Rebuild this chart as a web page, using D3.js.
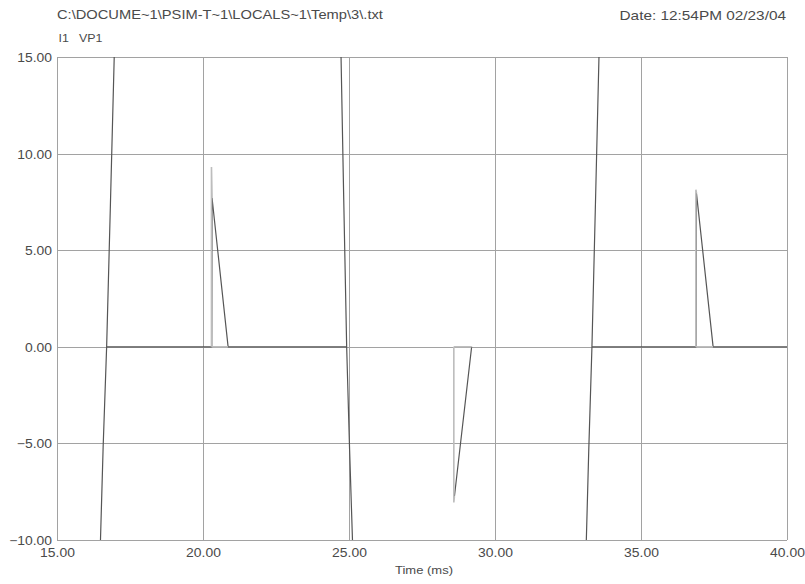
<!DOCTYPE html>
<html>
<head>
<meta charset="utf-8">
<script src="https://cdn.jsdelivr.net/npm/d3@7"></script>
<style>
  html, body { margin: 0; padding: 0; background: #fff; }
  text { font-family: "Liberation Sans", Arial, sans-serif; fill: #4a4a4a; }
</style>
</head>
<body>
<script>
// ---- data ----
const fileTitle = "C:\\DOCUME~1\\PSIM-T~1\\LOCALS~1\\Temp\\3\\.txt";
const dateLabel = "Date: 12:54PM 02/23/04";
const seriesNames = ["I1", "VP1"];
const xLabel = "Time (ms)";
const timeTicks = [15, 20, 25, 30, 35, 40];
const valueTicks = [-10, -5, 0, 5, 10, 15];

// I1 (light trace): pulse rises and zero pieces during pulses
const i1Points = [
  [20.29, 0], [20.29, 9.3], [20.31, 7.7], null,
  [20.29, 0], [20.86, 0], null,
  [28.59, 0], [28.59, -8.06], [28.61, -7.75], null,
  [28.59, 0], [29.20, 0], null,
  [36.88, 0], [36.88, 8.13], [36.90, 7.95], null,
  [36.88, 0], [37.47, 0]
];

// VP1 (dark trace)
const vp1Points = [
  [16.47, -11], [16.58, -5.2], [16.70, 0], [16.83, 7.4], [16.97, 15.6], null,
  [16.70, 0], [20.30, 0], [20.31, 7.7], [20.86, 0], [24.92, 0], null,
  [24.72, 15.6], [24.82, 7.6], [24.92, 0], [25.02, -5.3], [25.14, -11], null,
  [28.61, -7.75], [29.20, 0], null,
  [33.11, -11], [33.21, -5.4], [33.32, 0], [33.44, 7.4], [33.57, 15.6], null,
  [33.32, 0], [36.89, 0], [36.90, 7.95], [37.47, 0], [40, 0]
];

// ---- layout ----
const W = 805, H = 584;
const L = 57, R = 787, T = 57, B = 540;
const SX = 1.13; // horizontal stretch of the scanned lettering

const svg = d3.select("body").append("svg")
  .attr("width", W).attr("height", H);

const x = d3.scaleLinear().domain([15, 40]).range([L, R]);
const y = d3.scaleLinear().domain([-10, 15]).range([B, T]);

svg.append("clipPath").attr("id", "clip")
  .append("rect").attr("x", L).attr("y", T).attr("width", R - L).attr("height", B - T);

// grid
const grid = svg.append("g").attr("stroke", "#a2a2a2").attr("stroke-width", 1).attr("shape-rendering", "crispEdges");
grid.selectAll("line.v").data(timeTicks).join("line")
  .attr("x1", d => Math.round(x(d)) + 0.5).attr("x2", d => Math.round(x(d)) + 0.5)
  .attr("y1", T).attr("y2", B);
grid.selectAll("line.h").data(valueTicks).join("line")
  .attr("x1", L).attr("x2", R)
  .attr("y1", d => Math.round(y(d)) + 0.5).attr("y2", d => Math.round(y(d)) + 0.5);

// axes (labels only)
const xAxis = d3.axisBottom(x).tickValues(timeTicks).tickFormat(d3.format(".2f")).tickSize(0).tickPadding(8);
const yAxis = d3.axisLeft(y).tickValues(valueTicks).tickFormat(d3.format(".2f")).tickSize(0).tickPadding(0);
const gx = svg.append("g").attr("transform", `translate(0,${B})`).call(xAxis);
const gy = svg.append("g").attr("transform", `translate(${L - 5},0)`).call(yAxis);
[gx, gy].forEach(g => {
  g.select(".domain").remove();
  g.selectAll("text").style("font-size", "12.3px").style("fill", "#4a4a4a")
    .style("font-family", "'Liberation Sans', Arial, sans-serif")
    .attr("x", 0)
    .attr("transform", `scale(${SX},1)`);
});
gy.selectAll("text").attr("dy", "0.36em");

// traces
const line = d3.line().defined(d => d !== null).x(d => x(d[0])).y(d => y(d[1]));
const traces = svg.append("g").attr("clip-path", "url(#clip)").attr("fill", "none");
traces.append("path").datum(vp1Points).attr("d", line)
  .attr("stroke", "#555").attr("stroke-width", 1.2);
traces.append("path").datum(i1Points).attr("d", line)
  .attr("stroke", "#bdbdbd").attr("stroke-width", 1.6);

// texts
function addText(str, tx, ty, anchor, size) {
  return svg.append("text")
    .attr("transform", `translate(${tx},${ty}) scale(${SX},1)`)
    .attr("text-anchor", anchor)
    .style("font-size", size + "px")
    .text(str);
}
addText(fileTitle, L, 19, "start", 13);
addText(dateLabel, R - 1, 20, "end", 13.6);
addText(seriesNames[0], L + 1.5, 42, "start", 11);
addText(seriesNames[1], L + 22, 42, "start", 11);
addText(xLabel, (L + R) / 2 + 2, 574, "middle", 11.5);
</script>
</body>
</html>
